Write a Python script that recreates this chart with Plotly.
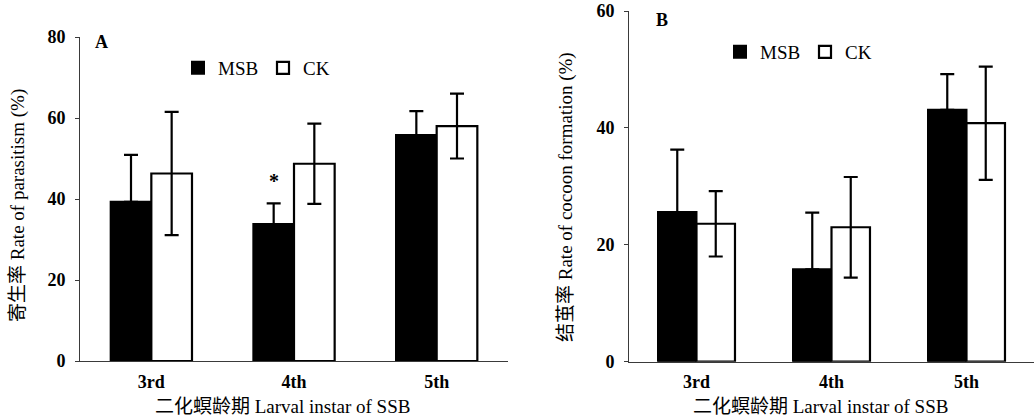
import plotly.graph_objects as go

# ---- data ----
instars = ["3rd", "4th", "5th"]

# Panel A: rate of parasitism (%)
para_msb = [39.3, 33.8, 55.8]
para_msb_err = [11.6, 5.1, 5.9]
para_ck = [46.3, 48.7, 58.0]
para_ck_err = [15.2, 9.9, 8.0]

# Panel B: rate of cocoon formation (%)
cocoon_msb = [25.6, 15.8, 43.1]
cocoon_msb_err = [10.7, 9.7, 6.1]
cocoon_ck = [23.6, 23.0, 40.8]
cocoon_ck_err = [5.6, 8.6, 9.7]

series_names = ["MSB", "CK"]
panel_labels = ["A", "B"]
y_titles = ["寄生率 Rate of parasitism (%)", "结茧率 Rate of cocoon formation (%)"]
x_title = "二化螟龄期 Larval instar of SSB"

# ---- style ----
W, H = 1036, 419
FONT = "Liberation Serif, Noto Sans CJK SC"
AXC = "#3a3a3a"


def px_x(v):
    return v / W


def px_y(v):
    return 1 - v / H


fig = go.Figure()

panels = [
    (para_msb, para_msb_err, para_ck, para_ck_err, "x", "y", "legend"),
    (cocoon_msb, cocoon_msb_err, cocoon_ck, cocoon_ck_err, "x2", "y2", "legend2"),
]
for msb, msb_e, ck, ck_e, xa, ya, lg in panels:
    fig.add_trace(go.Bar(
        x=instars, y=msb, name=series_names[0], xaxis=xa, yaxis=ya, legend=lg,
        marker=dict(color="black", line=dict(color="black", width=2)),
        error_y=dict(type="data", array=msb_e, arrayminus=[0, 0, 0], symmetric=False,
                     color="black", thickness=2.2, width=7),
    ))
    fig.add_trace(go.Bar(
        x=instars, y=ck, name=series_names[1], xaxis=xa, yaxis=ya, legend=lg,
        marker=dict(color="white", line=dict(color="black", width=2.2)),
        error_y=dict(type="data", array=ck_e, color="black", thickness=2.2, width=7),
    ))

tickfont = dict(family=FONT, size=18, color="black", weight="bold")
titlefont = dict(family=FONT, size=19, color="black")

common_x = dict(showline=True, linecolor=AXC, linewidth=1, ticks="", showgrid=False,
                zeroline=False, tickfont=tickfont, ticklabelstandoff=4, automargin=False)
common_y = dict(showline=True, linecolor=AXC, linewidth=1, ticks="outside", ticklen=4,
                tickcolor=AXC, showgrid=False, zeroline=False, tickfont=tickfont,
                ticklabelstandoff=6, automargin=False, ticklabeloverflow="allow")

legend_common = dict(orientation="h", xanchor="left", yanchor="middle",
                     font=dict(family=FONT, size=19, color="black"),
                     bgcolor="rgba(0,0,0,0)", itemwidth=30, entrywidth=40,
                     entrywidthmode="pixels")

fig.update_layout(
    width=W, height=H, autosize=False,
    font=dict(family=FONT, color="black"),
    margin=dict(l=0, r=0, t=0, b=0, autoexpand=False),
    paper_bgcolor="white", plot_bgcolor="white",
    barmode="group", bargap=0.43, bargroupgap=0,
    xaxis=dict(domain=[px_x(80), px_x(508)], anchor="y", **common_x),
    yaxis=dict(domain=[px_y(361), px_y(37)], anchor="x", range=[0, 80], dtick=20, **common_y),
    xaxis2=dict(domain=[px_x(629), px_x(1034)], anchor="y2", **common_x),
    yaxis2=dict(domain=[px_y(361.7), px_y(11)], anchor="x2", range=[0, 60], dtick=20,
                **common_y),
    legend=dict(x=px_x(178), y=px_y(68), **legend_common),
    legend2=dict(x=px_x(720), y=px_y(52), **legend_common),
    showlegend=True,
)

# axis titles
for text, x, y, ang in [
    (y_titles[0], 18, 206, -90),
    (y_titles[1], 566, 197, -90),
    (x_title, 282, 406, 0),
    (x_title, 820, 406, 0),
]:
    fig.add_annotation(text=text, xref="paper", yref="paper", x=px_x(x), y=px_y(y),
                       xanchor="center", yanchor="middle", textangle=ang, showarrow=False,
                       font=titlefont)

# panel letters
fig.add_annotation(text=panel_labels[0], xref="paper", yref="paper", x=px_x(101), y=px_y(42),
                   xanchor="center", yanchor="middle", showarrow=False,
                   font=dict(family=FONT, size=18, color="black", weight="bold"))
fig.add_annotation(text=panel_labels[1], xref="paper", yref="paper", x=px_x(662), y=px_y(20),
                   xanchor="center", yanchor="middle", showarrow=False,
                   font=dict(family=FONT, size=18, color="black", weight="bold"))

# significance marker above MSB 4th instar
fig.add_annotation(text="*", x=instars[1], y=para_msb[1] + para_msb_err[1] + 5.5,
                   xref="x", yref="y", xshift=-20, showarrow=False, yanchor="middle",
                   font=dict(family=FONT, size=20, color="black", weight="bold"))

# remove the default page margin so the figure fills the window exactly
fig.write_html("out.html", config={"displayModeBar": False},
               post_script="document.body.style.margin='0';")
